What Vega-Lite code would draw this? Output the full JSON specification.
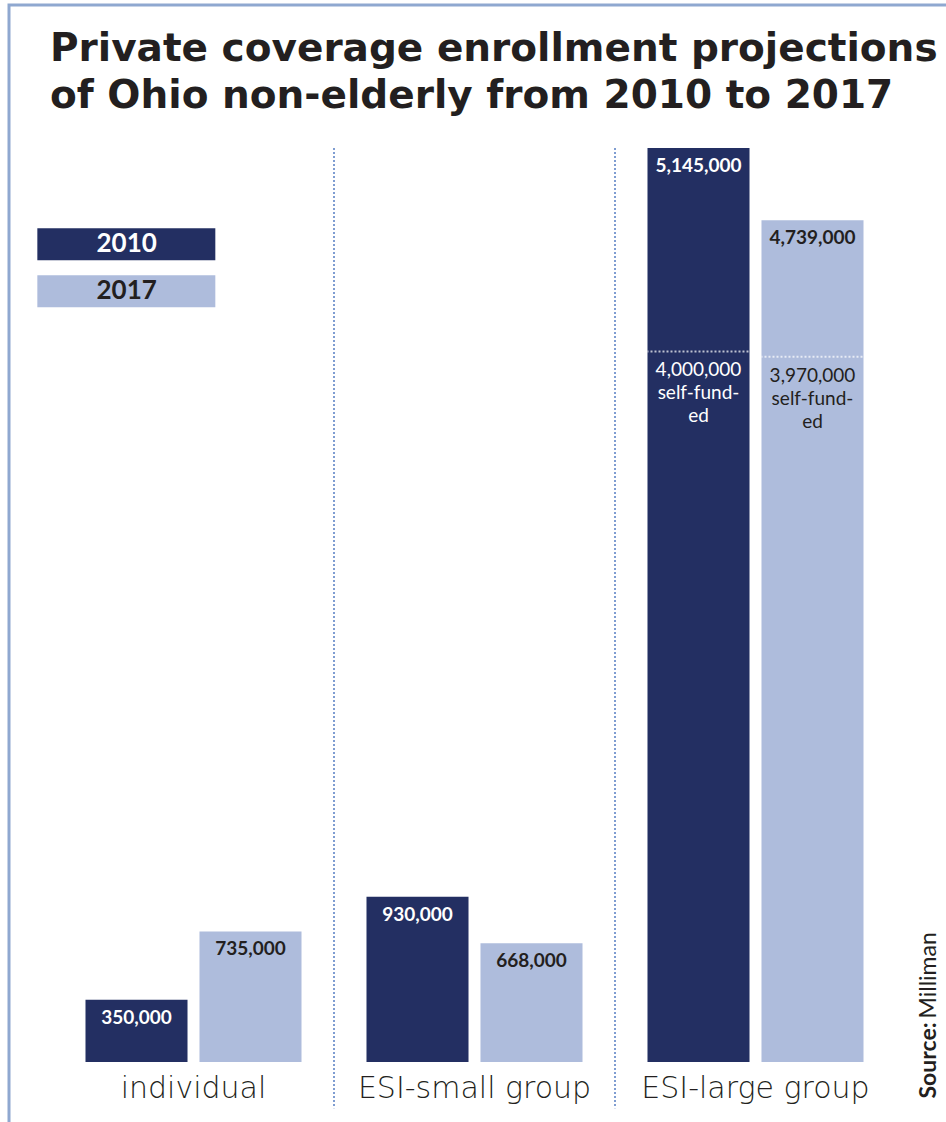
{
  "$schema": "https://vega.github.io/schema/vega-lite/v6.json",
  "width": 943,
  "height": 1124,
  "autosize": "none",
  "padding": {"left": 9, "top": 5, "right": -6, "bottom": -7},
  "background": "white",
  "title": {
    "text": ["Private coverage enrollment projections", "of Ohio non-elderly from 2010 to 2017"],
    "anchor": "start",
    "frame": "group",
    "orient": "top",
    "offset": -87,
    "dx": 41,
    "dy": 55,
    "baseline": "alphabetic",
    "font": "DejaVu Sans",
    "fontSize": 39,
    "fontWeight": "bold",
    "color": "#231f20",
    "lineHeight": 47
  },
  "datasets": {
    "enroll": [
      {"group": "individual", "year": "2010", "value": 350000},
      {"group": "individual", "year": "2017", "value": 735000},
      {"group": "ESI-small group", "year": "2010", "value": 930000},
      {"group": "ESI-small group", "year": "2017", "value": 668000},
      {"group": "ESI-large group", "year": "2010", "value": 5145000},
      {"group": "ESI-large group", "year": "2017", "value": 4739000}
    ],
    "selfFunded": [
      {"group": "ESI-large group", "year": "2010", "value": 4000000, "label": ["4,000,000", "self-fund-", "ed"]},
      {"group": "ESI-large group", "year": "2017", "value": 3970000, "label": ["3,970,000", "self-fund-", "ed"]}
    ],
    "separators": [
      {"group": "ESI-small group"},
      {"group": "ESI-large group"}
    ]
  },
  "layer": [
    {
      "data": {"name": "enroll"},
      "mark": {"type": "bar"},
      "encoding": {
        "x": {
          "field": "group", "type": "nominal",
          "scale": {"domain": ["individual", "ESI-small group", "ESI-large group"], "range": [44, 887], "paddingInner": 0, "paddingOuter": 0},
          "axis": {
            "title": null, "orient": "bottom", "offset": -67, "domain": false, "ticks": false, "grid": false,
            "labelAngle": 0, "labelFont": "DejaVu Sans", "labelFontSize": 30, "labelFontWeight": 200,
            "labelColor": "#231f20", "labelPadding": 11, "labelLimit": 500
          }
        },
        "xOffset": {"field": "year", "type": "nominal", "scale": {"paddingInner": 0.105, "paddingOuter": 0.285}},
        "y": {
          "field": "value", "type": "quantitative",
          "scale": {"domain": [0, 5145000], "range": [1057, 143], "nice": false, "zero": true},
          "axis": {
            "orient": "right", "title": "Source:", "labels": false, "ticks": false, "domain": false, "grid": false,
            "titleFont": "Lato", "titleFontWeight": "bold", "titleFontSize": 23, "titleColor": "#231f20",
            "titleAngle": 270, "titleAlign": "left", "titleBaseline": "middle", "titleX": -24, "titleY": 1093
          }
        },
        "color": {
          "field": "year", "type": "nominal",
          "scale": {"domain": ["2010", "2017"], "range": ["#232f62", "#aebcdc"]},
          "legend": {
            "title": null, "orient": "none", "legendX": 28, "legendY": 209.3, "direction": "vertical",
            "symbolType": "M-3,-0.54H3V0.54H-3Z", "symbolSize": 3520, "symbolOffset": 59.33, "symbolStrokeWidth": 0, "symbolOpacity": 1,
            "rowPadding": 0, "labelOffset": -29.67, "labelAlign": "center", "labelBaseline": "middle",
            "labelFont": "Lato", "labelFontWeight": "bold", "labelFontSize": 26, "labelColor": "#231f20",
            "padding": 0, "offset": 0,
            "encode": {
              "labels": {"update": {"fill": {"signal": "datum.label === '2010' ? '#ffffff' : '#231f20'"}}}
            }
          }
        }
      }
    },
    {
      "data": {"name": "enroll"},
      "mark": {"type": "text", "align": "center", "baseline": "top", "dy": 9, "font": "Lato", "fontWeight": "bold", "fontSize": 19},
      "encoding": {
        "x": {"field": "group", "type": "nominal", "scale": {"domain": ["individual", "ESI-small group", "ESI-large group"]}},
        "xOffset": {"field": "year", "type": "nominal"},
        "y": {
          "field": "value", "type": "quantitative",
          "axis": {
            "orient": "right", "title": "Milliman", "labels": false, "ticks": false, "domain": false, "grid": false,
            "titleFont": "Lato", "titleFontWeight": "normal", "titleFontSize": 23, "titleColor": "#231f20",
            "titleAngle": 270, "titleAlign": "left", "titleBaseline": "middle", "titleX": -24, "titleY": 1013
          }
        },
        "text": {"field": "value", "type": "quantitative", "format": ",d"},
        "color": {"condition": {"test": "datum.year === '2010'", "value": "#ffffff"}, "value": "#231f20"}
      }
    },
    {
      "data": {"name": "selfFunded"},
      "mark": {"type": "tick", "orient": "horizontal", "size": 102, "thickness": 0, "filled": false, "color": "#ffffff", "strokeWidth": 2, "strokeDash": [2, 2], "strokeDashOffset": 1},
      "encoding": {
        "x": {"field": "group", "type": "nominal", "scale": {"domain": ["individual", "ESI-small group", "ESI-large group"]}},
        "xOffset": {"field": "year", "type": "nominal"},
        "y": {"field": "value", "type": "quantitative", "axis": null}
      }
    },
    {
      "data": {"name": "selfFunded"},
      "mark": {"type": "text", "align": "center", "baseline": "top", "dy": 10, "font": "Lato", "fontWeight": "normal", "fontSize": 19, "lineHeight": 23},
      "encoding": {
        "x": {"field": "group", "type": "nominal", "scale": {"domain": ["individual", "ESI-small group", "ESI-large group"]}},
        "xOffset": {"field": "year", "type": "nominal"},
        "y": {"field": "value", "type": "quantitative", "axis": null},
        "text": {"field": "label"},
        "color": {"condition": {"test": "datum.year === '2010'", "value": "#ffffff"}, "value": "#231f20"}
      }
    },
    {
      "data": {"name": "separators"},
      "mark": {"type": "rule", "color": "#7f9dd1", "strokeWidth": 2, "strokeDash": [2, 2]},
      "encoding": {
        "x": {"field": "group", "type": "nominal", "bandPosition": 0, "scale": {"domain": ["individual", "ESI-small group", "ESI-large group"]}},
        "y": {"datum": 5145000, "type": "quantitative", "axis": null},
        "y2": {"datum": -260000}
      }
    }
  ],
  "resolve": {"axis": {"y": "independent"}},
  "config": {
    "view": {"stroke": "#8fa8d0", "strokeWidth": 3},
    "axis": {"grid": false}
  }
}
